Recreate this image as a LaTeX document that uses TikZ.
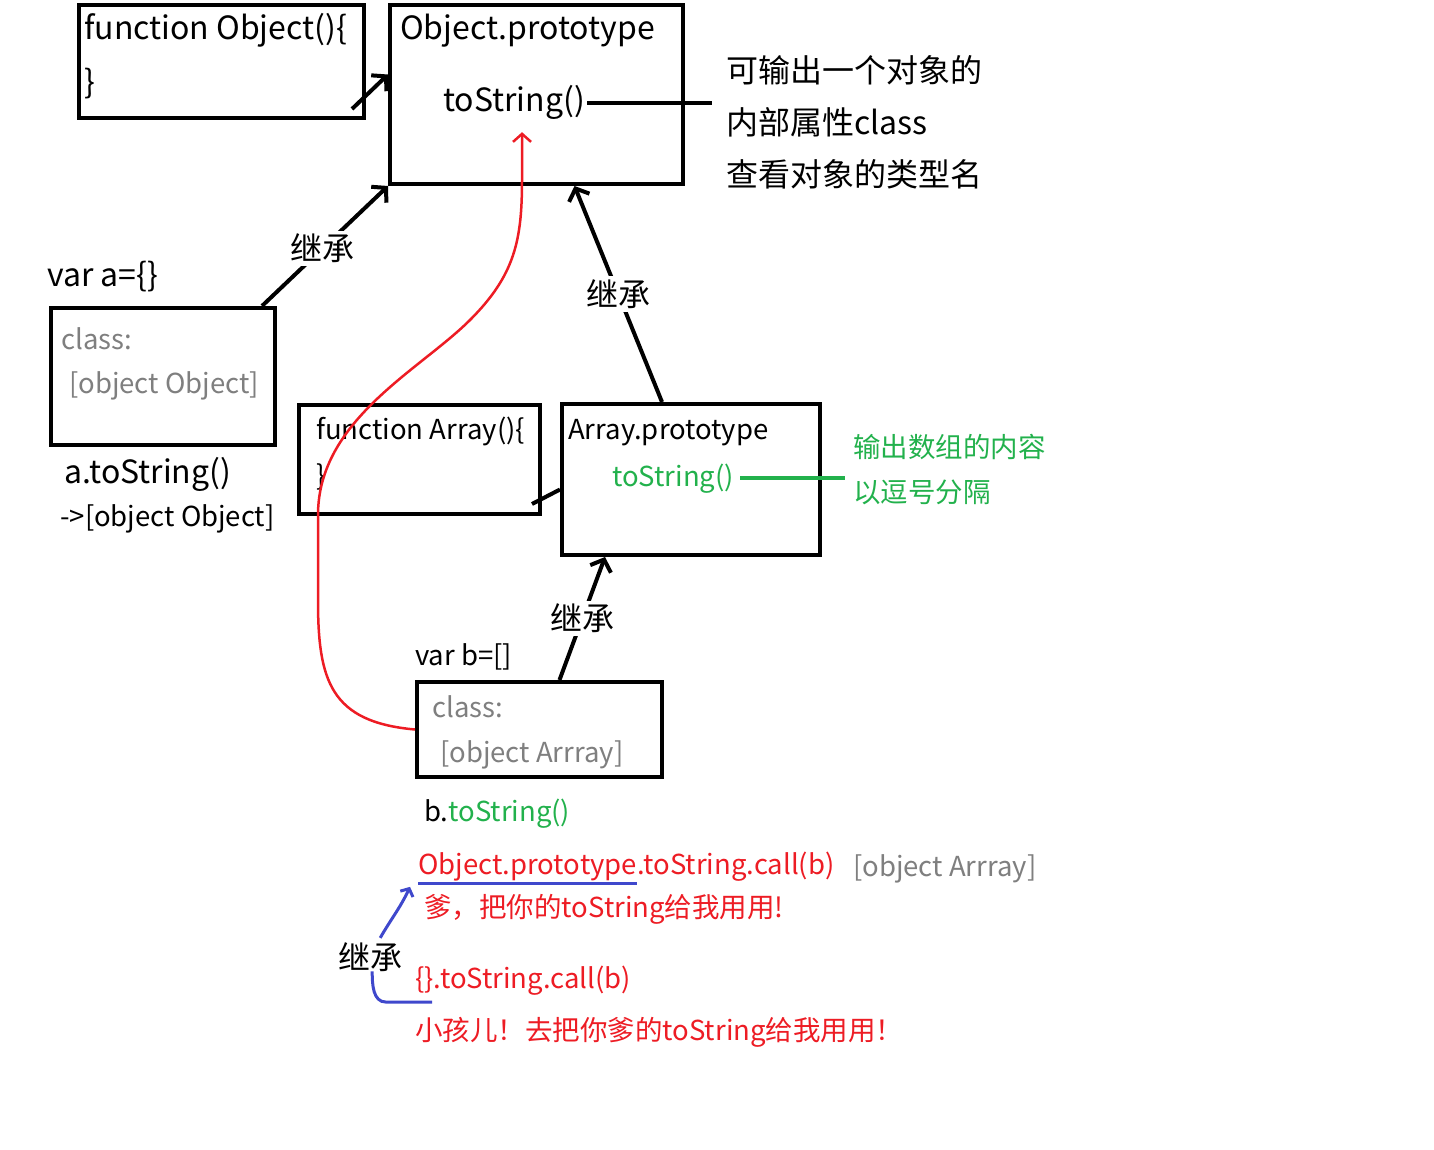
\documentclass[tikz,border=0pt]{standalone}
\usepackage{fontspec}
\setmainfont{Noto Sans CJK SC}
\usetikzlibrary{positioning,arrows.meta,calc}
\definecolor{pred}{HTML}{ED1C24}
\definecolor{pgreen}{HTML}{22B14C}
\definecolor{pblue}{HTML}{3F48CC}
\definecolor{pgray}{HTML}{7F7F7F}
\newcommand\bigfont{\fontsize{32}{38}\selectfont}
\newcommand\midfont{\fontsize{27.5}{33}\selectfont}
\tikzstyle{box}=[rectangle, draw=black, line width=4pt, anchor=north west, inner sep=0pt]
\tikzstyle{txt}=[anchor=base west, inner sep=0pt, font=\bigfont]
\tikzstyle{small}=[anchor=base west, inner sep=0pt, font=\midfont]

\begin{document}
\begin{tikzpicture}[
    x=1pt, y=-1pt,
    line/.style={-{Straight Barb[length=10pt,width=22pt]}, line width=4pt},
    inherit/.style={fill=white, inner sep=3pt, font=\bigfont},
  ]
  \useasboundingbox (0,0) rectangle (1434,1150);
  % boxes
  \node (FO) [box, minimum width=285pt, minimum height=113pt] at (77,3) {};
  \node (OP) [box, minimum width=293pt, minimum height=179pt] at (388,3) {};
  \node (A) [box, minimum width=224pt, minimum height=137pt] at (49,306) {};
  \node (FA) [box, minimum width=241pt, minimum height=109pt] at (297,403) {};
  \node (AP) [box, minimum width=258pt, minimum height=151pt] at (560,402) {};
  \node (B) [box, minimum width=245pt, minimum height=95pt] at (415,680) {};
  % Object
  \node (FOtext) [txt] at (84,40) {function Object()\{};
  \node (FOend) [txt] at (84,94) {\}};
  \node (OPtext) [txt] at (400,40) {Object.prototype};
  \node (OPts) [txt] at (443,112) {toString()};
  \coordinate (OPnote) at (712,101);
  \node (note1) [txt] at (726,83) {可输出一个对象的};
  \node (note2) [txt] at (726,135) {内部属性class};
  \node (note3) [txt] at (726,187) {查看对象的类型名};
  % a
  \node (vara) [txt] at (47,287) {var a=\{\}};
  \node (Aclass) [small, text=pgray] at (61,349) {class:};
  \node (Aval) [small, text=pgray] at (69,393) {[object Object]};
  \node (acall) [txt] at (64,483) {a.toString()};
  \node (aout) [small] at (60,526) {->[object Object]};
  % Array
  \node (FAtext) [small] at (316,439) {function Array()\{};
  \node (FAend) [small] at (316,485) {\}};
  \node (APtext) [small] at (568,439) {Array.prototype};
  \node (APts) [small, text=pgreen] at (612,486) {toString()};
  \coordinate (APnote) at (845,476);
  \node (APnote1) [small, text=pgreen] at (853,457) {输出数组的内容};
  \node (APnote2) [small, text=pgreen] at (853,502) {以逗号分隔};
  % b
  \node (varb) [small] at (415,665) {var b=[]};
  \node (Bclass) [small, text=pgray] at (432,717) {class:};
  \node (Bval) [small, text=pgray] at (440,762) {[object Arrray]};
  \node (bcall) [small] at (424,821) {b.\textcolor{pgreen}{toString()}};
  \node (callObj) [small, text=pred] at (418,874) {Object.prototype};
  \node (callRest) [small, text=pred, anchor=base west] at (callObj.base east) {.toString.call(b)};
  \node (callOut) [small, text=pgray] at (853,876) {[object Arrray]};
  \node (dad) [small, text=pred] at (424,917) {爹，把你的toString给我用用!};
  \node (inh4) [txt] at (338,969) {继承};
  \node (objcall) [small, text=pred] at (415,988) {\{\}.toString.call(b)};
  \node (kid) [small, text=pred] at (415,1040) {小孩儿！去把你爹的toString给我用用！};
  % connectors
  \draw [line] ([shift={(-14pt,11pt)}]FO.south east) to ([yshift=20pt]OP.west);
  \draw [line] ([xshift=-15pt]A.north east) to node [inherit, pos=0.48] {继承} (OP.south west);
  \draw [line] ([xshift=-29pt]AP.north) to node [inherit] {继承} ([xshift=38pt]OP.south);
  \draw [line] ([xshift=20pt]B.north) to node [inherit] {继承} ([xshift=-86pt]AP.south);
  \draw [line width=4pt] ([shift={(-10pt,12pt)}]FA.south east) to ([yshift=-10pt]AP.west);
  \draw [line width=4pt] ([xshift=2pt]OPts.east) to (OPts.east -| OPnote);
  \draw [line width=4pt, pgreen] ([xshift=6pt]APts.east) to (APts.east -| APnote);
  % red path
  \draw [pred, line width=2.5pt, -{Straight Barb[length=8pt,width=18pt]}]
    (B.west) .. controls (330,722) and (318,680) .. (318,600) -- (318,515)
    .. controls (318,420) and (420,370) .. (470,320)
    .. controls (515,275) and (522,240) .. (522,180) -- ([shift={(8pt,-12pt)}]OPts.south);
  % blue marks
  \draw [pblue, line width=3pt] ([yshift=-3pt]callObj.south west) to ([yshift=-3pt]callObj.south east);
  \draw [pblue, line width=3pt, -{Straight Barb[length=6pt,width=14pt]}]
    ([shift={(10pt,4pt)}]inh4.north) to [out=60, in=-115] ([shift={(-8pt,-6pt)}]callObj.south west);
  \draw [pblue, line width=3pt]
    ([xshift=2pt]inh4.south) to [out=-90, in=180] ([shift={(-29pt,-7pt)}]objcall.south west) -- ([shift={(17pt,-7pt)}]objcall.south west);
\end{tikzpicture}
\end{document}
